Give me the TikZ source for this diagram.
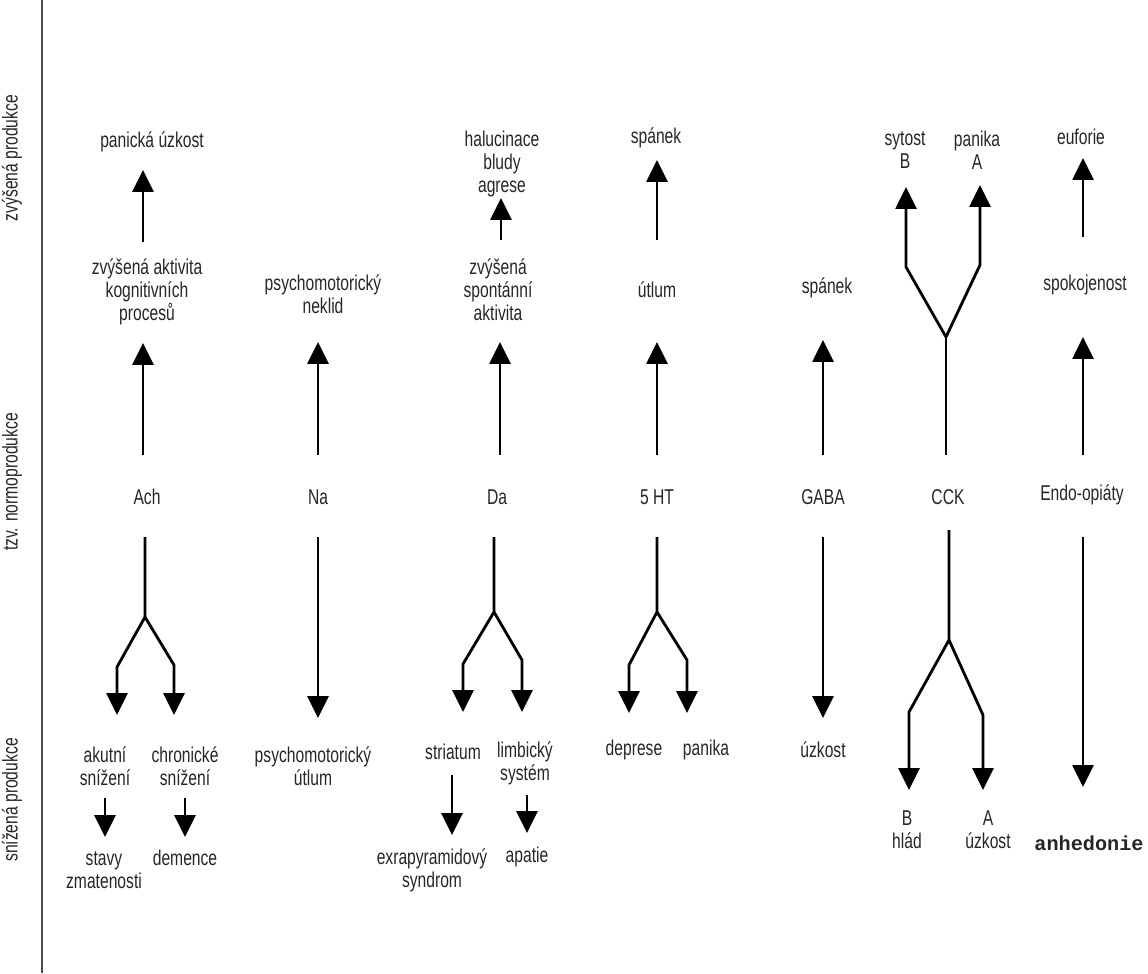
\documentclass[tikz,border=0pt]{standalone}
\usepackage{fontspec}
\setmainfont[FakeStretch=0.73]{Liberation Sans}
\newfontfamily\monofont{Liberation Mono}
\usetikzlibrary{arrows.meta}
\pgfdeclarelayer{edgelayer}
\pgfdeclarelayer{nodelayer}
\pgfsetlayers{edgelayer,nodelayer,main}
\tikzset{font=\fontsize{12.2}{13.1}\selectfont}
\tikzstyle{none}=[inner sep=0pt]
\tikzstyle{lbl}=[align=center,inner sep=0pt,text=black!85]
\tikzstyle{axis}=[rotate=90,align=center,inner sep=0pt,text=black!85]
\tikzstyle{arr}=[line width=1.6pt,-{Triangle[length=0.44cm,width=0.42cm]}]
\tikzstyle{fork}=[line width=1.6pt]

\begin{document}
\begin{tikzpicture}[x=0.02cm,y=-0.02cm]
	\useasboundingbox (0,0) rectangle (1148,973);
	\begin{pgfonlayer}{nodelayer}
		% rows
		\node [style=axis] (0) at (12,158) {zvýšená produkce};
		\node [style=axis] (1) at (12,482) {tzv. normoprodukce};
		\node [style=axis] (2) at (12,800) {snížená produkce};
		\node [style=none] (3) at (42,0) {};
		\node [style=none] (4) at (42,973) {};
		% Ach
		\node [style=lbl] (5) at (152,142) {panická úzkost};
		\node [style=lbl] (6) at (147,292) {zvýšená aktivita\\kognitivních\\procesů};
		\node [style=lbl] (7) at (147,497) {Ach};
		\node [style=lbl] (8) at (105,766) {akutní\\snížení};
		\node [style=lbl] (9) at (185,766) {chronické\\snížení};
		\node [style=lbl] (10) at (104,870) {stavy\\zmatenosti};
		\node [style=lbl] (11) at (185,858) {demence};
		\node [style=none] (12) at (143,242) {};
		\node [style=none] (13) at (143,170) {};
		\node [style=none] (14) at (143,455) {};
		\node [style=none] (15) at (143,343) {};
		\node [style=none] (16) at (145,537) {};
		\node [style=none] (17) at (145,617) {};
		\node [style=none] (18) at (117,667) {};
		\node [style=none] (19) at (117,715) {};
		\node [style=none] (20) at (174,665) {};
		\node [style=none] (21) at (174,715) {};
		\node [style=none] (22) at (105,798) {};
		\node [style=none] (23) at (105,837) {};
		\node [style=none] (24) at (185,798) {};
		\node [style=none] (25) at (185,837) {};
		% Na
		\node [style=lbl] (26) at (323,294) {psychomotorický\\neklid};
		\node [style=lbl] (27) at (318,497) {Na};
		\node [style=lbl] (28) at (313,766) {psychomotorický\\útlum};
		\node [style=none] (29) at (318,455) {};
		\node [style=none] (30) at (318,342) {};
		\node [style=none] (31) at (318,537) {};
		\node [style=none] (32) at (318,718) {};
		% Da
		\node [style=lbl] (33) at (502,164) {halucinace\\bludy\\agrese};
		\node [style=lbl] (34) at (498,290) {zvýšená\\spontánní\\aktivita};
		\node [style=lbl] (35) at (497,497) {Da};
		\node [style=lbl] (36) at (453,752) {striatum};
		\node [style=lbl] (37) at (525,763) {limbický\\systém};
		\node [style=lbl] (38) at (432,870) {exrapyramidový\\syndrom};
		\node [style=lbl] (39) at (527,857) {apatie};
		\node [style=none] (40) at (501,240) {};
		\node [style=none] (41) at (501,198) {};
		\node [style=none] (42) at (500,455) {};
		\node [style=none] (43) at (500,342) {};
		\node [style=none] (44) at (494,537) {};
		\node [style=none] (45) at (494,612) {};
		\node [style=none] (46) at (463,664) {};
		\node [style=none] (47) at (463,712) {};
		\node [style=none] (48) at (522,660) {};
		\node [style=none] (49) at (522,712) {};
		\node [style=none] (50) at (452,775) {};
		\node [style=none] (51) at (452,835) {};
		\node [style=none] (52) at (527,795) {};
		\node [style=none] (53) at (527,833) {};
		% 5 HT
		\node [style=lbl] (54) at (656,138) {spánek};
		\node [style=lbl] (55) at (657,290) {útlum};
		\node [style=lbl] (56) at (657,497) {5 HT};
		\node [style=lbl] (57) at (634,750) {deprese};
		\node [style=lbl] (58) at (706,750) {panika};
		\node [style=none] (59) at (657,240) {};
		\node [style=none] (60) at (657,160) {};
		\node [style=none] (61) at (657,455) {};
		\node [style=none] (62) at (657,342) {};
		\node [style=none] (63) at (657,537) {};
		\node [style=none] (64) at (657,612) {};
		\node [style=none] (65) at (629,665) {};
		\node [style=none] (66) at (629,713) {};
		\node [style=none] (67) at (687,660) {};
		\node [style=none] (68) at (687,713) {};
		% GABA
		\node [style=lbl] (69) at (827,288) {spánek};
		\node [style=lbl] (70) at (823,497) {GABA};
		\node [style=lbl] (71) at (823,750) {úzkost};
		\node [style=none] (72) at (823,455) {};
		\node [style=none] (73) at (823,340) {};
		\node [style=none] (74) at (823,537) {};
		\node [style=none] (75) at (823,718) {};
		% CCK
		\node [style=lbl] (76) at (905,150) {sytost\\B};
		\node [style=lbl] (77) at (977,150) {panika\\A};
		\node [style=lbl] (78) at (948,497) {CCK};
		\node [style=lbl] (79) at (907,830) {B\\hlád};
		\node [style=lbl] (80) at (988,830) {A\\úzkost};
		\node [style=none] (81) at (946,455) {};
		\node [style=none] (82) at (946,337) {};
		\node [style=none] (83) at (906,267) {};
		\node [style=none] (84) at (906,187) {};
		\node [style=none] (85) at (980,265) {};
		\node [style=none] (86) at (980,185) {};
		\node [style=none] (87) at (949,530) {};
		\node [style=none] (88) at (949,640) {};
		\node [style=none] (89) at (909,712) {};
		\node [style=none] (90) at (909,790) {};
		\node [style=none] (91) at (983,715) {};
		\node [style=none] (92) at (983,790) {};
		% Endo-opiaty
		\node [style=lbl] (93) at (1081,137) {euforie};
		\node [style=lbl] (94) at (1085,285) {spokojenost};
		\node [style=lbl] (95) at (1082,495) {Endo-opiáty};
		\node [style=lbl,font=\monofont\bfseries\fontsize{11.5}{13}\selectfont] (96) at (1089,843) {anhedonie};
		\node [style=none] (97) at (1083,237) {};
		\node [style=none] (98) at (1083,158) {};
		\node [style=none] (99) at (1083,455) {};
		\node [style=none] (100) at (1083,337) {};
		\node [style=none] (101) at (1083,537) {};
		\node [style=none] (102) at (1083,787) {};
	\end{pgfonlayer}
	\begin{pgfonlayer}{edgelayer}
		\draw[line width=0.8pt,black!70] (3.center) to (4.center);
		% Ach
		\draw[style=arr] (12.center) to (13.center);
		\draw[style=arr] (14.center) to (15.center);
		\draw[style=arr] (16.center) -- (17.center) -- (18.center) -- (19.center);
		\draw[style=arr] (17.center) -- (20.center) -- (21.center);
		\draw[style=arr] (22.center) to (23.center);
		\draw[style=arr] (24.center) to (25.center);
		% Na
		\draw[style=arr] (29.center) to (30.center);
		\draw[style=arr] (31.center) to (32.center);
		% Da
		\draw[style=arr] (40.center) to (41.center);
		\draw[style=arr] (42.center) to (43.center);
		\draw[style=arr] (44.center) -- (45.center) -- (46.center) -- (47.center);
		\draw[style=arr] (45.center) -- (48.center) -- (49.center);
		\draw[style=arr] (50.center) to (51.center);
		\draw[style=arr] (52.center) to (53.center);
		% 5 HT
		\draw[style=arr] (59.center) to (60.center);
		\draw[style=arr] (61.center) to (62.center);
		\draw[style=arr] (63.center) -- (64.center) -- (65.center) -- (66.center);
		\draw[style=arr] (64.center) -- (67.center) -- (68.center);
		% GABA
		\draw[style=arr] (72.center) to (73.center);
		\draw[style=arr] (74.center) to (75.center);
		% CCK
		\draw[style=fork] (81.center) to (82.center);
		\draw[style=arr] (82.center) -- (83.center) -- (84.center);
		\draw[style=arr] (82.center) -- (85.center) -- (86.center);
		\draw[style=arr] (87.center) -- (88.center) -- (89.center) -- (90.center);
		\draw[style=arr] (88.center) -- (91.center) -- (92.center);
		% Endo-opiaty
		\draw[style=arr] (97.center) to (98.center);
		\draw[style=arr] (99.center) to (100.center);
		\draw[style=arr] (101.center) to (102.center);
	\end{pgfonlayer}
\end{tikzpicture}
\end{document}
